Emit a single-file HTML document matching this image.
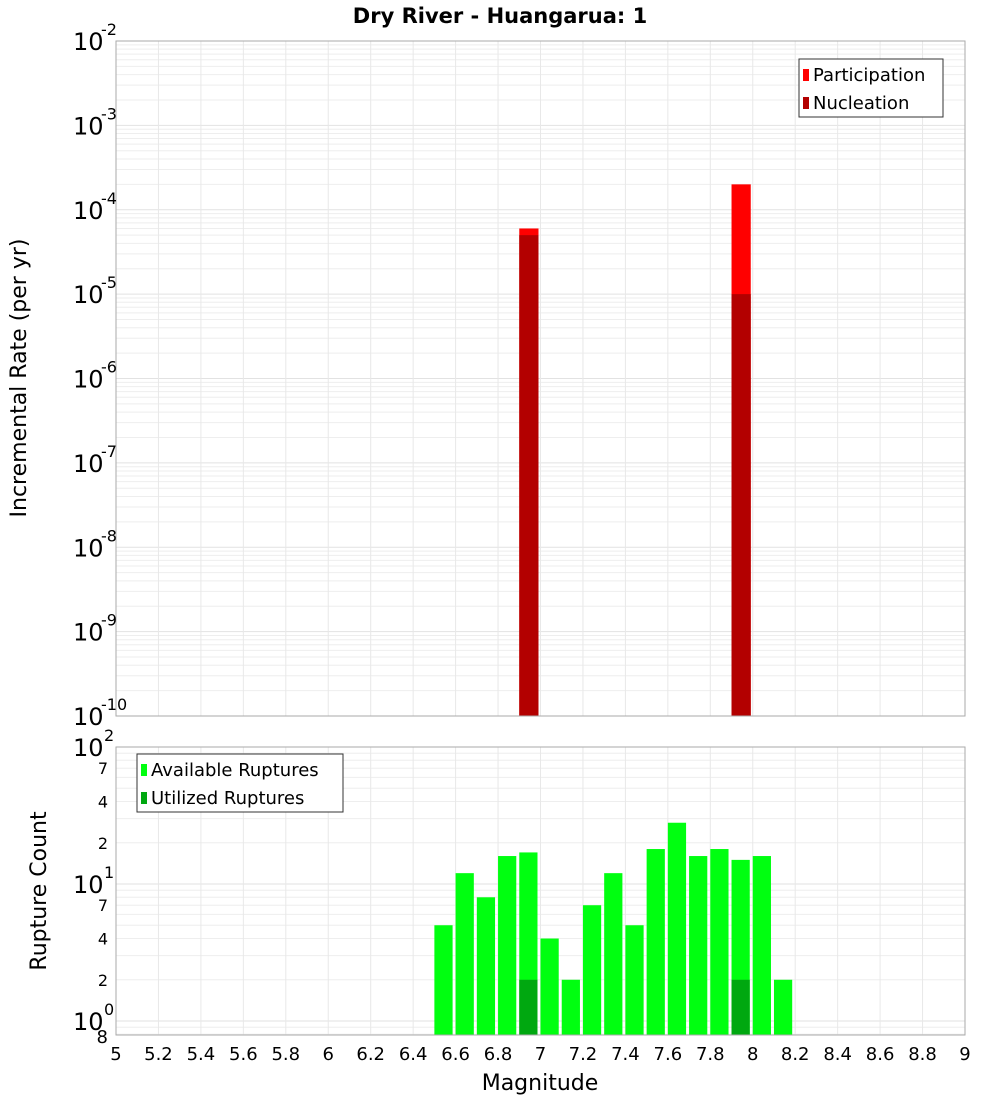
<!DOCTYPE html>
<html><head><meta charset="utf-8"><style>
body{margin:0;background:#fff;font-family:"DejaVu Sans","Liberation Sans",sans-serif}
svg text{font-family:"DejaVu Sans","Liberation Sans",sans-serif}
</style></head><body>
<svg id="c" width="1000" height="1100" xmlns="http://www.w3.org/2000/svg"></svg>
<script>
const binCenters=[6.55,6.65,6.75,6.85,6.95,7.05,7.15,7.25,7.35,7.45,7.55,7.65,7.75,7.85,7.95,8.05,8.15];
const available=[5,12,8,16,17,4,2,7,12,5,18,28,16,18,15,16,2];
const utilized=[0,0,0,0,2,0,0,0,0,0,0,0,0,0,2,0,0];
const rateBins=[6.95,7.95];
const participation=[6e-5,2e-4];
const nucleation=[5e-5,1e-5];
const xTicks=[5,5.2,5.4,5.6,5.8,6,6.2,6.4,6.6,6.8,7,7.2,7.4,7.6,7.8,8,8.2,8.4,8.6,8.8,9];
const topDecades=[-10,-9,-8,-7,-6,-5,-4,-3,-2];
const botMinorLabels=[2,4,7,20,40,70];

const svg=document.getElementById('c');const NS='http://www.w3.org/2000/svg';
function el(t,a,p){const e=document.createElementNS(NS,t);for(const k in a)e.setAttribute(k,a[k]);(p||svg).appendChild(e);return e;}
const X0=116,X1=965;
const x=v=>X0+(v-5)/4*(X1-X0);
const T0=41,T1=716; const yT=v=>T0+(-2-Math.log10(v))/8*(T1-T0);
const B0=747,B1=1035; const D=137; const yB=v=>B0+(2-Math.log10(v))*D;

// title
let t=el('text',{x:500,y:23,'text-anchor':'middle','font-size':21,'font-weight':'bold'});t.textContent='Dry River - Huangarua: 1';


function grid(y0,y1,yf,lo,hi,name){
  const g=el('g',{});
  for(let d=lo;d<hi;d++)for(let m=1;m<10;m++){const yy=yf(m*Math.pow(10,d));if(yy>=y0&&yy<=y1)el('line',{x1:X0,x2:X1,y1:yy,y2:yy,stroke:m==1?'#e2e2e2':'#eeeeee'},g);}
  xTicks.forEach(v=>el('line',{x1:x(v),x2:x(v),y1:y0,y2:y1,stroke:'#e8e8e8'},g));
}
grid(T0,T1,yT,-10,-2,'top-grid');
grid(B0,B1,yB,-1,2,'bottom-grid');

// top bars
const bw=0.1*(X1-X0)/4;
rateBins.forEach((c,i)=>{
  let r=el('rect',{x:x(c-0.05),width:bw-2,y:yT(participation[i]),height:T1-yT(participation[i]),fill:'#ff0000'});
  
  r=el('rect',{x:x(c-0.05),width:bw-2,y:yT(nucleation[i]),height:T1-yT(nucleation[i]),fill:'#b30000'});
  
});
// bottom bars
binCenters.forEach((c,i)=>{
  let r=el('rect',{x:x(c-0.05),width:bw-3,y:yB(available[i]),height:B1-yB(available[i]),fill:'#00ff10'});
  
  if(utilized[i]>0){r=el('rect',{x:x(c-0.05),width:bw-3,y:yB(utilized[i]),height:B1-yB(utilized[i]),fill:'#00a810'});
  }
});
// frames
el('rect',{x:X0,y:T0,width:X1-X0,height:T1-T0,fill:'none',stroke:'#aaa'});
el('rect',{x:X0,y:B0,width:X1-X0,height:B1-B0,fill:'none',stroke:'#aaa'});

// top y labels
topDecades.forEach(d=>{
  const yy=yT(Math.pow(10,d));
  const tx=el('text',{x:73,y:yy+9,'font-size':24});tx.textContent='10';
  
  const s=el('text',{x:101,y:yy-6,'font-size':16});s.textContent=String(d);
  
});
// bottom y labels
[[100,'2'],[10,'1'],[1,'0']].forEach(([v,e])=>{
  const yy=yB(v);
  const tx=el('text',{x:73,y:yy+9,'font-size':24});tx.textContent='10';
  
  const s=el('text',{x:104,y:yy-6,'font-size':16});s.textContent=e;
  
});
botMinorLabels.forEach(v=>{
  const tx=el('text',{x:108,y:yB(v)+6,'font-size':16,'text-anchor':'end'});tx.textContent=String(v>10?v/10:v);
  
});
let e8=el('text',{x:108,y:1043,'font-size':18,'text-anchor':'end'});e8.textContent='8';

// x labels
xTicks.forEach(v=>{
  const tx=el('text',{x:x(v),y:1060,'font-size':18,'text-anchor':'middle'});tx.textContent=String(v);
  
});
t=el('text',{x:540,y:1090,'font-size':22,'text-anchor':'middle'});t.textContent='Magnitude';

t=el('text',{x:0,y:0,'font-size':22,'text-anchor':'middle',transform:'translate(26,378) rotate(-90)'});t.textContent='Incremental Rate (per yr)';

t=el('text',{x:0,y:0,'font-size':22,'text-anchor':'middle',transform:'translate(46,891) rotate(-90)'});t.textContent='Rupture Count';


// legends
function legend(lx,ly,w,items,name){
  const g=el('g',{});
  el('rect',{x:lx,y:ly,width:w,height:58,fill:'#fff',stroke:'#333'},g);
  items.forEach(([c,txt],i)=>{
    el('rect',{x:lx+4,y:ly+10+i*28,width:6,height:12,fill:c},g);
    const tx=el('text',{x:lx+14,y:ly+22+i*28,'font-size':18},g);tx.textContent=txt;
    
  });
}
legend(799,59,144,[['#ff0000','Participation'],['#b30000','Nucleation']],'top-legend');
legend(137,754,206,[['#00ff10','Available Ruptures'],['#00a810','Utilized Ruptures']],'bottom-legend');
</script>
</body></html>
